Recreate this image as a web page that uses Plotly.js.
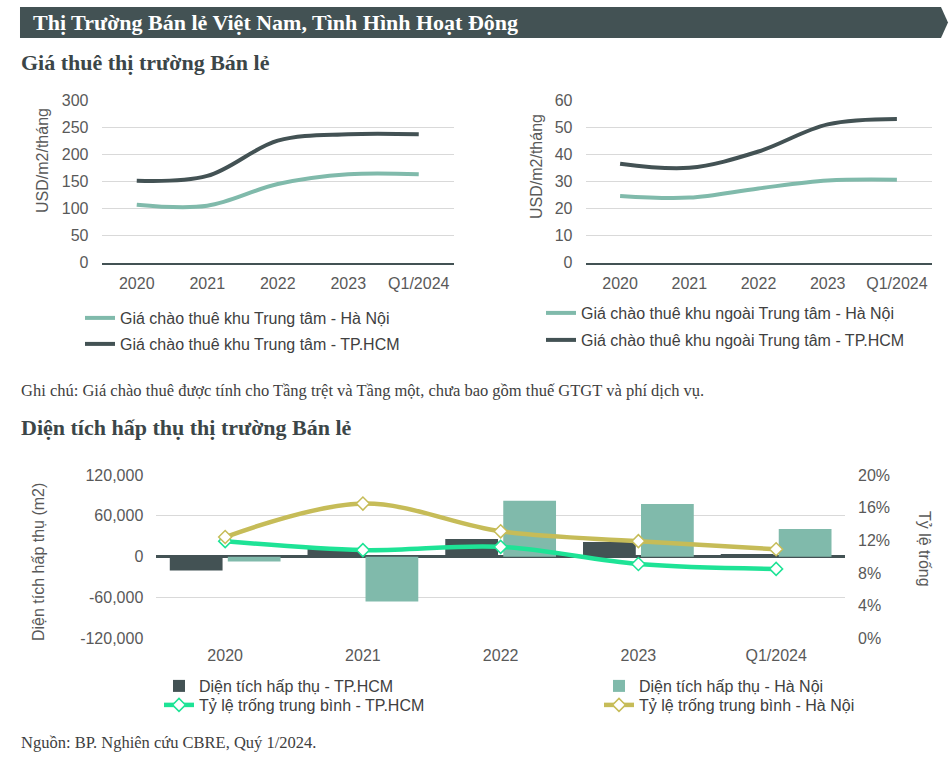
<!DOCTYPE html>
<html><head><meta charset="utf-8">
<script src="https://cdn.plot.ly/plotly-3.0.1.min.js"></script>
<style>html,body{margin:0;padding:0;background:#fff;} #chart{width:950px;height:758px;}</style>
</head><body><div id="chart"></div>
<script>
// ---- data ----
const years = ['2020', '2021', '2022', '2023', 'Q1/2024'];
const rentCbdHN = [107, 105, 145, 163, 163];
const rentCbdHCM = [151, 160, 225, 237, 237];
const rentNonCbdHN = [24.6, 24, 27.4, 30.3, 30.6];
const rentNonCbdHCM = [36.5, 35, 41, 51, 53];
const absorbHCM = [-20500, 12000, 26000, 21600, 4000];
const absorbHN = [-7300, -66000, 82000, 77400, 40700];
const vacancyHCM = [11.9, 10.8, 11.2, 9.1, 8.5];
const vacancyHN = [12.4, 16.5, 13.1, 11.9, 10.9];
const absorbTickVals = [-120000, -60000, 0, 60000, 120000];
const absorbTickText = ['-120,000', '-60,000', '0', '60,000', '120,000'];

// ---- helpers (pixel -> paper) ----
const W = 950, H = 758;
const px = x => x / W;
const py = y => 1 - y / H;

const DARK = '#435254', TEAL = '#80BAAB', OLIVE = '#C6BC58', GREEN = '#1EE396';
const SANS = 'Liberation Sans, Arial, sans-serif';
const SERIF = 'Liberation Serif, Times New Roman, serif';
const tickFont = {family: SANS, size: 16, color: '#595959'};
const legFont = {family: SANS, size: 16, color: '#404040'};

const traces = [
  {x: years, y: rentCbdHN, name: 'Giá chào thuê khu Trung tâm - Hà Nội', type: 'scatter', mode: 'lines',
   line: {color: TEAL, width: 4, shape: 'spline'}, xaxis: 'x', yaxis: 'y', legend: 'legend'},
  {x: years, y: rentCbdHCM, name: 'Giá chào thuê khu Trung tâm - TP.HCM', type: 'scatter', mode: 'lines',
   line: {color: DARK, width: 4, shape: 'spline'}, xaxis: 'x', yaxis: 'y', legend: 'legend2'},
  {x: years, y: rentNonCbdHN, name: 'Giá chào thuê khu ngoài Trung tâm - Hà Nội', type: 'scatter', mode: 'lines',
   line: {color: TEAL, width: 4, shape: 'spline'}, xaxis: 'x2', yaxis: 'y2', legend: 'legend3'},
  {x: years, y: rentNonCbdHCM, name: 'Giá chào thuê khu ngoài Trung tâm - TP.HCM', type: 'scatter', mode: 'lines',
   line: {color: DARK, width: 4, shape: 'spline'}, xaxis: 'x2', yaxis: 'y2', legend: 'legend4'},
  {x: years, y: absorbHCM, name: 'Diện tích hấp thụ - TP.HCM', type: 'bar', marker: {color: DARK},
   xaxis: 'x3', yaxis: 'y3', legend: 'legend5'},
  {x: years, y: absorbHN, name: 'Diện tích hấp thụ - Hà Nội', type: 'bar', marker: {color: TEAL},
   xaxis: 'x3', yaxis: 'y3', legend: 'legend6'},
  {x: years, y: vacancyHCM, name: 'Tỷ lệ trống trung bình - TP.HCM', type: 'scatter', mode: 'lines+markers',
   line: {color: GREEN, width: 4.5, shape: 'spline'},
   marker: {symbol: 'diamond', size: 10, color: '#ffffff', line: {color: GREEN, width: 1.5}},
   xaxis: 'x3', yaxis: 'y4', legend: 'legend7'},
  {x: years, y: vacancyHN, name: 'Tỷ lệ trống trung bình - Hà Nội', type: 'scatter', mode: 'lines+markers',
   line: {color: OLIVE, width: 4.5, shape: 'spline'},
   marker: {symbol: 'diamond', size: 10, color: '#ffffff', line: {color: OLIVE, width: 1.5}},
   xaxis: 'x3', yaxis: 'y4', legend: 'legend8'}
];

function leg(xp, yp) {
  return {x: px(xp), y: py(yp), xanchor: 'left', yanchor: 'middle', bgcolor: 'rgba(0,0,0,0)',
          borderwidth: 0, font: legFont, itemclick: false, itemdoubleclick: false};
}
const catAxis = (d, anchor) => ({domain: d, anchor: anchor, type: 'category', range: [-0.5, 4.5],
  showgrid: false, ticks: '', tickfont: tickFont, ticklabelstandoff: 5, fixedrange: true});
const valAxis = (d, anchor, range, dtick) => ({domain: d, anchor: anchor, range: range, dtick: dtick,
  showgrid: true, gridcolor: '#d9d9d9', gridwidth: 1, zeroline: false, ticks: '', tickfont: tickFont,
  ticklabelstandoff: 12, fixedrange: true});

const topY = [py(262.7), py(100)];
const botY = [py(638.3), py(475)];

const xa1 = catAxis([px(101.5), px(454)], 'y');
xa1.showline = true; xa1.linecolor = DARK; xa1.linewidth = 2.5;
const xa2 = catAxis([px(585.5), px(931.5)], 'y2');
xa2.showline = true; xa2.linecolor = DARK; xa2.linewidth = 2.5;
const xa3 = catAxis([px(156.3), px(845)], 'y3');
xa3.ticklabelstandoff = 6;

const ya3 = valAxis(botY, 'x3', [-120000, 120000], 60000);
ya3.tickmode = 'array'; ya3.tickvals = absorbTickVals; ya3.ticktext = absorbTickText;
ya3.zeroline = true; ya3.zerolinecolor = DARK; ya3.zerolinewidth = 2.5;

const ya4 = {overlaying: 'y3', side: 'right', anchor: 'x3', range: [0, 20], dtick: 4, ticksuffix: '%',
  showgrid: false, zeroline: false, ticks: '', tickfont: tickFont, ticklabelstandoff: 12, fixedrange: true};

function ann(text, x, y, font, extra) {
  return Object.assign({text: text, x: px(x), y: py(y), xref: 'paper', yref: 'paper',
    xanchor: 'left', yanchor: 'middle', showarrow: false, font: font}, extra || {});
}
const headFont = {family: SERIF, size: 22, color: '#ffffff', weight: 'bold'};
const secFont = {family: SERIF, size: 22, color: '#3c4648', weight: 'bold'};
const noteFont = {family: SERIF, size: 16.5, color: '#404040'};
const axTitleFont = {family: SANS, size: 16, color: '#595959'};

const f = v => v.toFixed(5);
const headerPath = 'M' + f(px(20)) + ',' + f(py(7)) + ' L' + f(px(941)) + ',' + f(py(7)) +
  ' L' + f(px(948)) + ',' + f(py(22.5)) + ' L' + f(px(941)) + ',' + f(py(38)) +
  ' L' + f(px(20)) + ',' + f(py(38)) + ' Z';

const layout = {
  width: W, height: H, margin: {l: 0, r: 0, t: 0, b: 0},
  paper_bgcolor: '#ffffff', plot_bgcolor: 'rgba(0,0,0,0)',
  font: {family: SANS, size: 16, color: '#595959'},
  showlegend: true,
  barmode: 'group', bargap: 0.158, bargroupgap: 0.09,
  xaxis: xa1, yaxis: valAxis(topY, 'x', [0, 300], 50),
  xaxis2: xa2, yaxis2: valAxis(topY, 'x2', [0, 60], 10),
  xaxis3: xa3, yaxis3: ya3, yaxis4: ya4,
  legend: leg(80, 318), legend2: leg(80, 344),
  legend3: leg(541, 313), legend4: leg(541, 340),
  legend5: leg(159, 686), legend6: leg(599, 686),
  legend7: leg(159, 705), legend8: leg(599, 705),
  shapes: [{type: 'path', xref: 'paper', yref: 'paper', path: headerPath, fillcolor: DARK,
            line: {width: 0}, layer: 'above'}],
  annotations: [
    ann('Thị Trường Bán lẻ Việt Nam, Tình Hình Hoạt Động', 31, 22.5, headFont),
    ann('Giá thuê thị trường Bán lẻ', 19, 62, secFont),
    ann('Ghi chú: Giá chào thuê được tính cho Tầng trệt và Tầng một, chưa bao gồm thuế GTGT và phí dịch vụ.', 19, 390, noteFont),
    ann('Diện tích hấp thụ thị trường Bán lẻ', 19, 427, secFont),
    ann('Nguồn: BP. Nghiên cứu CBRE, Quý 1/2024.', 19, 742, noteFont),
    ann('USD/m2/tháng', 42, 161, axTitleFont, {xanchor: 'center', textangle: -90}),
    ann('USD/m2/tháng', 536, 167, axTitleFont, {xanchor: 'center', textangle: -90}),
    ann('Diện tích hấp thụ (m2)', 38, 562, axTitleFont, {xanchor: 'center', textangle: -90}),
    ann('Tỷ lệ trống', 925, 549, axTitleFont, {xanchor: 'center', textangle: 90})
  ]
};

Plotly.newPlot('chart', traces, layout, {displayModeBar: false, staticPlot: true});
</script>
</body></html>
